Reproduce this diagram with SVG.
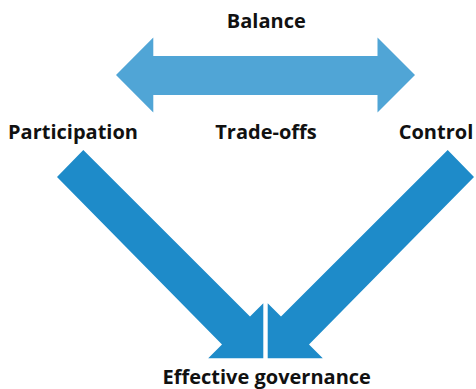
<svg xmlns="http://www.w3.org/2000/svg" width="476" height="389" viewBox="0 0 476 389">
<style>
.lbl{font-family:"Open Sans","Liberation Sans",sans-serif;font-weight:bold;font-size:20px;fill:#111;text-anchor:middle}
.bal{fill:#50a5d6}
.flow{fill:#1e8bc9}
</style>
<rect width="476" height="389" fill="#fff"/>
<g id="connectors">
<polygon class="bal" points="116,75 153.3,37.5 153.3,56 377.5,56 377.5,37.5 415,75 377.5,112.5 377.5,95 153.3,95 153.3,112.5"/>
<polygon class="flow" points="83.3,150 250,316.5 263.3,303.2 263.3,358.3 208.2,358.3 222,344.5 57,177"/>
<polygon class="flow" points="447.7,150 281,316.5 267.7,303.2 267.7,358.3 322.8,358.3 309,344.5 474,177"/>
</g>
<g id="balance"><text class="lbl" x="266.3" y="28.3">Balance</text></g>
<g id="participation"><text class="lbl" x="73" y="139">Participation</text></g>
<g id="tradeoffs"><text class="lbl" x="266" y="139">Trade-offs</text></g>
<g id="control"><text class="lbl" x="436" y="139">Control</text></g>
<g id="governance"><text class="lbl" x="266.7" y="383.5">Effective governance</text></g>
</svg>
